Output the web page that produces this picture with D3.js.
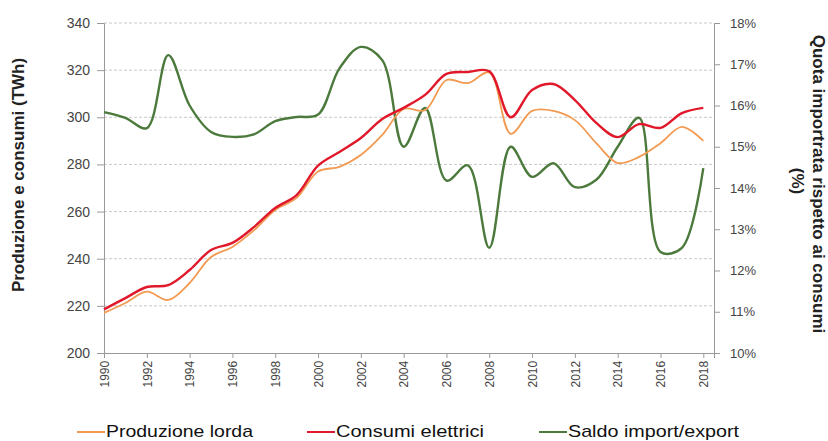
<!DOCTYPE html>
<html>
<head>
<meta charset="utf-8">
<script src="https://cdn.jsdelivr.net/npm/d3@7"></script>
<style>
  body { margin: 0; background: #fff; }
  svg { display: block; font-family: "Liberation Sans", Arial, sans-serif; }
</style>
</head>
<body>
<div class="main"></div>
<script>
// anni e serie
var years = d3.range(1990, 2019);
var produzione = [217, 221.2, 226, 222.5, 229.7, 240.7, 245, 252, 260.7, 265.8,
                  277, 279, 284, 292.5, 303.5, 303, 315.8, 314.5, 319, 293,
                  302.7, 302.7, 298.8, 289, 280.6, 283.2, 289, 295.9, 290];
var consumi = [218.5, 223.3, 228, 228.8, 235.2, 243.7, 246.7, 253.4, 261.5, 267,
               279.5, 285.3, 291.2, 299.3, 304, 309.5, 318.4, 319.2, 319.5, 300,
               311.6, 314.1, 307.3, 297.6, 291.6, 297.1, 295.5, 301.8, 304];
var saldo = [15.84, 15.7, 15.45, 17.22, 16.0, 15.36, 15.24, 15.3, 15.62, 15.72,
             15.78, 16.9, 17.42, 17.1, 15.0, 15.94, 14.18, 14.55, 12.55, 15.0,
             14.27, 14.6, 14.02, 14.2, 15.0, 15.7, 12.45, 12.55, 14.48];
var leftTicks = [200, 220, 240, 260, 280, 300, 320, 340];
var rightTicks = [10, 11, 12, 13, 14, 15, 16, 17, 18];
var xTicks = d3.range(1990, 2019, 2);

var W = 828, H = 441;
var m = {left: 104, right: 114, top: 23, bottom: 88};

var svg = d3.select(".main").append("svg")
    .attr("width", W)
    .attr("height", H);

var x = d3.scaleLinear().domain([1990, 2018.5]).range([m.left, W - m.right]);
var yL = d3.scaleLinear().domain([200, 340]).range([H - m.bottom, m.top]);
var yR = d3.scaleLinear().domain([10, 18]).range([H - m.bottom, m.top]);

// griglia tratteggiata
svg.append("g")
    .selectAll("line")
    .data(leftTicks.slice(1))
    .join("line")
    .attr("x1", m.left).attr("x2", W - m.right)
    .attr("y1", function(d) { return yL(d); })
    .attr("y2", function(d) { return yL(d); })
    .attr("stroke", "#c8c8c8")
    .attr("stroke-dasharray", "3,2");

// assi
var axL = svg.append("g")
    .attr("transform", "translate(" + m.left + ",0)")
    .call(d3.axisLeft(yL).tickValues(leftTicks).tickSize(7).tickPadding(7));
var axR = svg.append("g")
    .attr("transform", "translate(" + (W - m.right) + ",0)")
    .call(d3.axisRight(yR).tickValues(rightTicks).tickSize(6).tickPadding(10)
        .tickFormat(function(d) { return d + "%"; }));
var axX = svg.append("g")
    .attr("transform", "translate(0," + (H - m.bottom) + ")")
    .call(d3.axisBottom(x).tickValues(xTicks).tickSize(5).tickFormat(d3.format("d")));

[axL, axR, axX].forEach(function(a) {
    a.select(".domain").attr("stroke", "#999");
    a.selectAll(".tick line").attr("stroke", "#999");
    a.selectAll("text").attr("fill", "#444");
});
axL.selectAll("text").attr("font-size", 14);
axR.selectAll("text").attr("font-size", 13);
axX.selectAll("text")
    .attr("font-size", 12)
    .attr("transform", "rotate(-90)")
    .attr("text-anchor", "end")
    .attr("dx", "-0.4em")
    .attr("dy", "0.35em")
    .attr("y", 0)
    .attr("x", -3);

// linee
function line(scale) {
    return d3.line()
        .x(function(d, i) { return x(years[i]); })
        .y(function(d) { return scale(d); })
        .curve(d3.curveCatmullRom.alpha(0.5));
}

svg.append("path").datum(saldo)
    .attr("d", line(yR))
    .attr("fill", "none").attr("stroke", "#4c7a3c").attr("stroke-width", 2.4);
svg.append("path").datum(produzione)
    .attr("d", line(yL))
    .attr("fill", "none").attr("stroke", "#f29a52").attr("stroke-width", 1.8);
svg.append("path").datum(consumi)
    .attr("d", line(yL))
    .attr("fill", "none").attr("stroke", "#e0182a").attr("stroke-width", 2.4);

// titoli assi
svg.append("text")
    .attr("transform", "translate(24,175) rotate(-90)")
    .attr("text-anchor", "middle")
    .attr("font-size", 17).attr("font-weight", "bold").attr("fill", "#222")
    .text("Produzione e consumi (TWh)");
svg.append("text")
    .attr("transform", "translate(813,184) rotate(90)")
    .attr("text-anchor", "middle")
    .attr("font-size", 17).attr("font-weight", "bold").attr("fill", "#222")
    .text("Quota importrata rispetto ai consumi");
svg.append("text")
    .attr("transform", "translate(792,181) rotate(90)")
    .attr("text-anchor", "middle")
    .attr("font-size", 17).attr("font-weight", "bold").attr("fill", "#222")
    .text("(%)");

// legenda
var legend = [
    {key: "Produzione lorda", color: "#f29a52", x: 77, w: 147},
    {key: "Consumi elettrici", color: "#e0182a", x: 307, w: 148},
    {key: "Saldo import/export", color: "#4c7a3c", x: 539, w: 171}
];
var lg = svg.append("g").selectAll("g").data(legend).join("g")
    .attr("transform", function(d) { return "translate(" + d.x + ",432)"; });
lg.append("line")
    .attr("x1", 0).attr("x2", 28)
    .attr("stroke", function(d) { return d.color; })
    .attr("stroke-width", 2);
lg.append("text")
    .attr("x", 29).attr("y", 5)
    .attr("font-size", 17)
    .attr("textLength", function(d) { return d.w; })
    .attr("lengthAdjust", "spacingAndGlyphs")
    .attr("fill", "#111")
    .text(function(d) { return d.key; });
</script>
</body>
</html>
